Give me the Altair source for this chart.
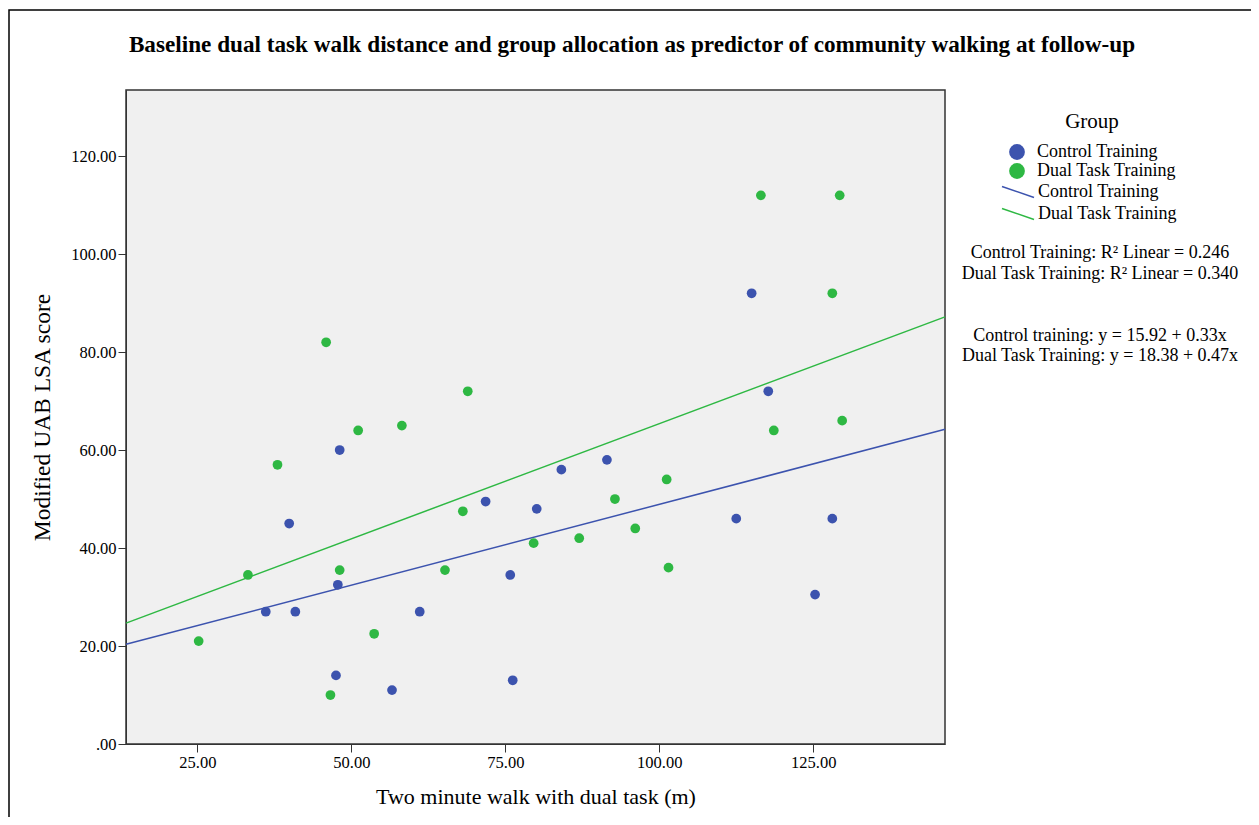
import altair as alt
import pandas as pd

# ---- data ----
control_x = [39.9, 48.1, 36.1, 40.9, 47.8, 61.1, 47.5, 56.6, 76.2, 75.8, 71.8,
             80.1, 84.1, 91.5, 115.0, 117.7, 112.5, 128.1, 125.3]
control_y = [45.0, 60.0, 27.0, 27.0, 32.5, 27.0, 14.0, 11.0, 13.0, 34.5, 49.5,
             48.0, 56.0, 58.0, 92.0, 72.0, 46.0, 46.0, 30.5]
dual_x = [45.9, 68.9, 51.1, 58.2, 38.0, 33.2, 48.1, 68.1, 65.2, 25.2, 53.7,
          46.6, 79.6, 87.0, 96.1, 92.8, 101.2, 101.5, 116.5, 129.3, 128.1,
          118.6, 129.7]
dual_y = [82.0, 72.0, 64.0, 65.0, 57.0, 34.5, 35.5, 47.5, 35.5, 21.0, 22.5,
          10.0, 41.0, 42.0, 44.0, 50.0, 54.0, 36.0, 112.0, 112.0, 92.0,
          64.0, 66.0]

groups = ["Control Training", "Dual Task Training"]
intercepts = [15.92, 18.38]
slopes = [0.33, 0.47]
r2 = [0.246, 0.340]

x_domain = [13.4, 146.4]
y_domain = [0, 133.5]
x_ticks = [25, 50, 75, 100, 125]
y_ticks = [0, 20, 40, 60, 80, 100, 120]

title_text = ("Baseline dual task walk distance and group allocation as "
              "predictor of community walking at follow-up")

colors = ["#3C53AE", "#2EB843"]
FONT = "Liberation Serif"

pts = pd.DataFrame(
    {"x": control_x + dual_x,
     "y": control_y + dual_y,
     "Group": [groups[0]] * len(control_x) + [groups[1]] * len(dual_x)}
)

lines = pd.DataFrame(
    [{"Fit": g, "intercept": a, "slope": b, "x": xv}
     for g, a, b in zip(groups, intercepts, slopes) for xv in x_domain]
)

xscale = alt.Scale(domain=x_domain, nice=False, zero=False)
yscale = alt.Scale(domain=y_domain, nice=False, zero=False)

xaxis = alt.Axis(values=x_ticks, format=".2f", grid=False,
                 title="Two minute walk with dual task (m)")
yaxis = alt.Axis(values=y_ticks, grid=False,
                 labelExpr="datum.value == 0 ? '.00' : format(datum.value, '.2f')",
                 title="Modified UAB LSA score")

points = alt.Chart(pts).mark_circle(size=95, opacity=1).encode(
    x=alt.X("x:Q", scale=xscale, axis=xaxis),
    y=alt.Y("y:Q", scale=yscale, axis=yaxis),
    color=alt.Color("Group:N",
                    scale=alt.Scale(domain=groups, range=colors),
                    legend=alt.Legend(title="Group", orient="none",
                                      legendX=882, legendY=21,
                                      titleAnchor="middle", titlePadding=11,
                                      symbolSize=250, symbolType="circle",
                                      labelOffset=11, rowPadding=1)),
)

fit = alt.Chart(lines).transform_calculate(
    yfit="datum.intercept + datum.slope * datum.x"
).mark_line(strokeWidth=1.5).encode(
    x=alt.X("x:Q", scale=xscale),
    y=alt.Y("yfit:Q", scale=yscale),
    detail="Fit:N",
    stroke=alt.Stroke("Fit:N",
                      scale=alt.Scale(domain=groups, range=colors),
                      legend=alt.Legend(title=None, orient="none",
                                        legendX=881, legendY=91,
                                        symbolType="M-1.6,-0.55L1.6,0.55",
                                        symbolSize=400, symbolStrokeWidth=1.5,
                                        labelOffset=9, rowPadding=2)),
)

ann_texts = [
    f"{groups[0]}: R\u00b2 Linear = {r2[0]:.3f}",
    f"{groups[1]}: R\u00b2 Linear = {r2[1]:.3f}",
    f"Control training: y = {intercepts[0]:.2f} + {slopes[0]:.2f}x",
    f"{groups[1]}: y = {intercepts[1]:.2f} + {slopes[1]:.2f}x",
]
ann_y = [163, 184, 246, 266]
ann_layers = []
for t, yy in zip(ann_texts, ann_y):
    ann_layers.append(
        alt.Chart(pd.DataFrame({"t": [t]})).mark_text(
            font=FONT, fontSize=18, align="center", baseline="middle",
            color="black"
        ).encode(text="t:N", x=alt.value(974), y=alt.value(yy))
    )

title_layer = alt.Chart(pd.DataFrame({"t": [title_text]})).mark_text(
    font=FONT, fontSize=23.2, fontWeight="bold", align="center",
    baseline="middle", color="black"
).encode(text="t:N", x=alt.value(506), y=alt.value(-45))

frame = alt.Chart(pd.DataFrame({"a": [0]})).mark_rect(
    fill=None, stroke="black", strokeWidth=1.5
).encode(x=alt.value(-117), x2=alt.value(1300),
         y=alt.value(-80), y2=alt.value(900))

chart = alt.layer(frame, fit, points, title_layer, *ann_layers).resolve_scale(
    color="independent", stroke="independent"
).properties(
    width=819, height=654,
    autosize=alt.AutoSizeParams(type="none"),
    padding={"left": 118, "top": 82, "right": 306, "bottom": 73},
).configure_view(
    fill="#F0F0F0", stroke="#333333", strokeWidth=1.5
).configure_axis(
    labelFont=FONT, titleFont=FONT, labelFontSize=16.5,
    labelColor="black", titleColor="black", titleFontWeight="normal",
    domainColor="#333333", tickColor="#333333", tickSize=8, labelPadding=2,
).configure_axisX(
    titlePadding=16, titleFontSize=22
).configure_axisY(
    titlePadding=16, titleFontSize=23.5
).configure_legend(
    labelFont=FONT, titleFont=FONT, labelFontSize=18, titleFontSize=21,
    titleFontWeight="normal", labelColor="black", titleColor="black",
)

chart.save("out.html", embed_options={"renderer": "svg", "actions": False})
